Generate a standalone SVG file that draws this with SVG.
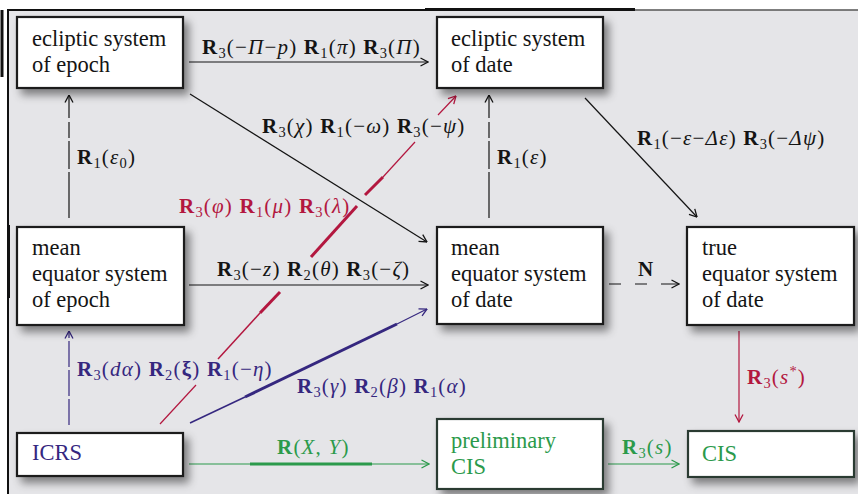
<svg xmlns="http://www.w3.org/2000/svg" width="858" height="494" viewBox="0 0 858 494">
<style>
  .box { fill: #ffffff; stroke: #1a1a1a; stroke-width: 2.2; }
  .boxg { fill: #ffffff; stroke: #2c3a33; stroke-width: 2.2; }
  .t { font-family: "Liberation Serif", "Times New Roman", serif; font-size: 22.5px; fill: #141414; }
  .lbl { font-family: "Liberation Serif", "Times New Roman", serif; font-size: 21px; letter-spacing: 1.2px; fill: #141414; }
  .b { font-weight: bold; }
  .i { font-style: italic; }
  .s { font-size: 14.5px; }
  .red { fill: #b3173f; }
  .pur { fill: #35277f; }
  .grn { fill: #2b9a4b; }
  .ln { fill: none; stroke-width: 1.2; }
</style>
<defs>
  <filter id="sh" x="-10%" y="-20%" width="130%" height="160%">
    <feDropShadow dx="5" dy="6" stdDeviation="4" flood-color="#000" flood-opacity="0.45"/>
  </filter>
  <marker id="aK" viewBox="0 0 9 10" refX="8.5" refY="5" markerWidth="9" markerHeight="10" orient="auto" markerUnits="userSpaceOnUse">
    <path d="M1,1 L8.5,5 L1,9" fill="none" stroke="#141414" stroke-width="1.3"/>
  </marker>
  <marker id="aR" viewBox="0 0 9 10" refX="8.5" refY="5" markerWidth="9" markerHeight="10" orient="auto" markerUnits="userSpaceOnUse">
    <path d="M1,1 L8.5,5 L1,9" fill="none" stroke="#b3173f" stroke-width="1.3"/>
  </marker>
  <marker id="aP" viewBox="0 0 9 10" refX="8.5" refY="5" markerWidth="9" markerHeight="10" orient="auto" markerUnits="userSpaceOnUse">
    <path d="M1,1 L8.5,5 L1,9" fill="none" stroke="#35277f" stroke-width="1.3"/>
  </marker>
  <marker id="aG" viewBox="0 0 9 10" refX="8.5" refY="5" markerWidth="9" markerHeight="10" orient="auto" markerUnits="userSpaceOnUse">
    <path d="M1,1 L8.5,5 L1,9" fill="none" stroke="#2b9a4b" stroke-width="1.3"/>
  </marker>
</defs>

<rect x="0" y="0" width="858" height="494" fill="#ffffff"/>
<rect x="8" y="10" width="850" height="484" fill="#e5e5e8"/>
<line x1="7" y1="10" x2="635" y2="10" stroke="#111" stroke-width="2"/>
<line x1="425" y1="9.5" x2="635" y2="9.5" stroke="#111" stroke-width="3"/>
<line x1="635" y1="10" x2="858" y2="10" stroke="#555" stroke-width="1.5"/>
<line x1="8" y1="9" x2="8" y2="494" stroke="#111" stroke-width="2"/>
<line x1="2" y1="10" x2="2" y2="77" stroke="#111" stroke-width="3"/>
<line x1="8.5" y1="225" x2="8.5" y2="298" stroke="#111" stroke-width="3"/>

<g id="connectors">
  <line class="ln" x1="189" y1="62" x2="428" y2="62" stroke="#141414" marker-end="url(#aK)"/>
  <line class="ln" x1="190" y1="94" x2="427" y2="242" stroke="#141414" marker-end="url(#aK)"/>
  <line class="ln" x1="69" y1="218" x2="69" y2="95" stroke="#141414" stroke-dasharray="46 3 28 3 16 4" marker-end="url(#aK)"/>
  <line class="ln" x1="489" y1="218" x2="489" y2="95" stroke="#141414" stroke-dasharray="46 3 28 3 16 4" marker-end="url(#aK)"/>
  <line class="ln" x1="585" y1="98" x2="697" y2="217" stroke="#141414" marker-end="url(#aK)"/>
  <line class="ln" x1="189" y1="285" x2="428" y2="285" stroke="#141414" marker-end="url(#aK)"/>
  <line class="ln" x1="609" y1="284" x2="679" y2="284" stroke="#141414" stroke-dasharray="12 14 12 14 45" marker-end="url(#aK)"/>
  <line class="ln" x1="739" y1="331" x2="739" y2="422" stroke="#b3173f" marker-end="url(#aR)"/>
  <line class="ln" x1="69" y1="425" x2="69" y2="331" stroke="#35277f" stroke-dasharray="26 3 26 3" marker-end="url(#aP)"/>
  <line class="ln" x1="189" y1="464" x2="429" y2="464" stroke="#2b9a4b" marker-end="url(#aG)"/>
  <line x1="250" y1="464" x2="372" y2="464" stroke="#2b9a4b" stroke-width="3"/>
  <line class="ln" x1="608" y1="464" x2="679" y2="464" stroke="#2b9a4b" marker-end="url(#aG)"/>
  <g stroke="#b3173f" fill="none">
    <line x1="160" y1="424" x2="196" y2="385" stroke-width="1.2"/>
    <line x1="218" y1="359" x2="260" y2="313" stroke-width="1.5"/>
    <line x1="260" y1="313" x2="280" y2="292" stroke-width="3"/>
    <line x1="311" y1="257" x2="357" y2="206" stroke-width="3"/>
    <line x1="365" y1="195" x2="383" y2="177" stroke-width="3"/>
    <line x1="383" y1="177" x2="415" y2="142" stroke-width="1.2"/>
    <line x1="438" y1="115" x2="456" y2="96" stroke-width="1.2" marker-end="url(#aR)"/>
  </g>
  <g stroke="#35277f" fill="none">
    <line x1="190" y1="423" x2="245" y2="397" stroke-width="1.5"/>
    <line x1="245" y1="397" x2="397" y2="324" stroke-width="3"/>
    <line x1="397" y1="324" x2="427" y2="309" stroke-width="1.2" marker-end="url(#aP)"/>
  </g>
</g>

<g id="n-ecl-epoch">
  <rect class="box" x="17" y="17" width="166" height="71" filter="url(#sh)"/>
  <text class="t" x="32" y="46">ecliptic system</text>
  <text class="t" x="32" y="72">of epoch</text>
</g>
<g id="n-ecl-date">
  <rect class="box" x="437" y="17" width="166" height="71" filter="url(#sh)"/>
  <text class="t" x="451" y="46">ecliptic system</text>
  <text class="t" x="451" y="72">of date</text>
</g>
<g id="n-meq-epoch">
  <rect class="box" x="17" y="227" width="167" height="98" filter="url(#sh)"/>
  <text class="t" x="32" y="255">mean</text>
  <text class="t" x="32" y="281">equator system</text>
  <text class="t" x="32" y="307">of epoch</text>
</g>
<g id="n-meq-date">
  <rect class="box" x="437" y="227" width="166" height="97" filter="url(#sh)"/>
  <text class="t" x="451" y="255">mean</text>
  <text class="t" x="451" y="281">equator system</text>
  <text class="t" x="451" y="307">of date</text>
</g>
<g id="n-true">
  <rect class="box" x="687" y="227" width="167" height="98" filter="url(#sh)"/>
  <text class="t" x="702" y="255">true</text>
  <text class="t" x="702" y="281">equator system</text>
  <text class="t" x="702" y="307">of date</text>
</g>
<g id="n-icrs">
  <rect class="box" x="17" y="433" width="166" height="43" filter="url(#sh)"/>
  <text class="t pur" x="32" y="460">ICRS</text>
</g>
<g id="n-pcis">
  <rect class="boxg" x="437" y="419" width="166" height="70" filter="url(#sh)"/>
  <text class="t grn" x="451" y="448">preliminary</text>
  <text class="t grn" x="451" y="474">CIS</text>
</g>
<g id="n-cis">
  <rect class="boxg" x="688" y="431" width="166" height="46" filter="url(#sh)"/>
  <text class="t grn" x="702" y="461">CIS</text>
</g>

<g id="labels">
  <text class="lbl" x="202" y="54"><tspan class="b">R</tspan><tspan class="s" dy="4">3</tspan><tspan dy="-4">(−</tspan><tspan class="i">Π</tspan>−<tspan class="i">p</tspan>) <tspan class="b">R</tspan><tspan class="s" dy="4">1</tspan><tspan dy="-4">(</tspan><tspan class="i">π</tspan>) <tspan class="b">R</tspan><tspan class="s" dy="4">3</tspan><tspan dy="-4">(</tspan><tspan class="i">Π</tspan>)</text>
  <text class="lbl" x="262" y="133"><tspan class="b">R</tspan><tspan class="s" dy="4">3</tspan><tspan dy="-4">(</tspan><tspan class="i">χ</tspan>) <tspan class="b">R</tspan><tspan class="s" dy="4">1</tspan><tspan dy="-4">(−</tspan><tspan class="i">ω</tspan>) <tspan class="b">R</tspan><tspan class="s" dy="4">3</tspan><tspan dy="-4">(−</tspan><tspan class="i">ψ</tspan>)</text>
  <text class="lbl" x="77" y="164"><tspan class="b">R</tspan><tspan class="s" dy="4">1</tspan><tspan dy="-4">(</tspan><tspan class="i">ε</tspan><tspan class="s" dy="4">0</tspan><tspan dy="-4">)</tspan></text>
  <text class="lbl" x="497" y="164"><tspan class="b">R</tspan><tspan class="s" dy="4">1</tspan><tspan dy="-4">(</tspan><tspan class="i">ε</tspan>)</text>
  <text class="lbl" x="637" y="145"><tspan class="b">R</tspan><tspan class="s" dy="4">1</tspan><tspan dy="-4">(−</tspan><tspan class="i">ε</tspan>−<tspan class="i">Δε</tspan>) <tspan class="b">R</tspan><tspan class="s" dy="4">3</tspan><tspan dy="-4">(−</tspan><tspan class="i">Δψ</tspan>)</text>
  <text class="lbl red" x="179" y="213"><tspan class="b">R</tspan><tspan class="s" dy="4">3</tspan><tspan dy="-4">(</tspan><tspan class="i">φ</tspan>) <tspan class="b">R</tspan><tspan class="s" dy="4">1</tspan><tspan dy="-4">(</tspan><tspan class="i">μ</tspan>) <tspan class="b">R</tspan><tspan class="s" dy="4">3</tspan><tspan dy="-4">(</tspan><tspan class="i">λ</tspan>)</text>
  <text class="lbl" x="217" y="276"><tspan class="b">R</tspan><tspan class="s" dy="4">3</tspan><tspan dy="-4">(−</tspan><tspan class="i">z</tspan>) <tspan class="b">R</tspan><tspan class="s" dy="4">2</tspan><tspan dy="-4">(</tspan><tspan class="i">θ</tspan>) <tspan class="b">R</tspan><tspan class="s" dy="4">3</tspan><tspan dy="-4">(−</tspan><tspan class="i">ζ</tspan>)</text>
  <text class="lbl b" x="638" y="276">N</text>
  <text class="lbl red" x="747" y="384"><tspan class="b">R</tspan><tspan class="s" dy="4">3</tspan><tspan dy="-4">(</tspan><tspan class="i">s</tspan><tspan class="s" dy="-8">*</tspan><tspan dy="8">)</tspan></text>
  <text class="lbl pur" x="77" y="376"><tspan class="b">R</tspan><tspan class="s" dy="4">3</tspan><tspan dy="-4">(</tspan><tspan class="i">dα</tspan>) <tspan class="b">R</tspan><tspan class="s" dy="4">2</tspan><tspan dy="-4">(</tspan><tspan class="b">ξ</tspan>) <tspan class="b">R</tspan><tspan class="s" dy="4">1</tspan><tspan dy="-4">(−</tspan><tspan class="i">η</tspan>)</text>
  <text class="lbl pur" x="297" y="393"><tspan class="b">R</tspan><tspan class="s" dy="4">3</tspan><tspan dy="-4">(</tspan><tspan class="i">γ</tspan>) <tspan class="b">R</tspan><tspan class="s" dy="4">2</tspan><tspan dy="-4">(</tspan><tspan class="i">β</tspan>) <tspan class="b">R</tspan><tspan class="s" dy="4">1</tspan><tspan dy="-4">(</tspan><tspan class="i">α</tspan>)</text>
  <text class="lbl grn" x="277" y="454"><tspan class="b">R</tspan>(<tspan class="i">X</tspan>, <tspan class="i">Y</tspan>)</text>
  <text class="lbl grn" x="622" y="454"><tspan class="b">R</tspan><tspan class="s" dy="4">3</tspan><tspan dy="-4">(</tspan><tspan class="i">s</tspan>)</text>
</g>
</svg>
